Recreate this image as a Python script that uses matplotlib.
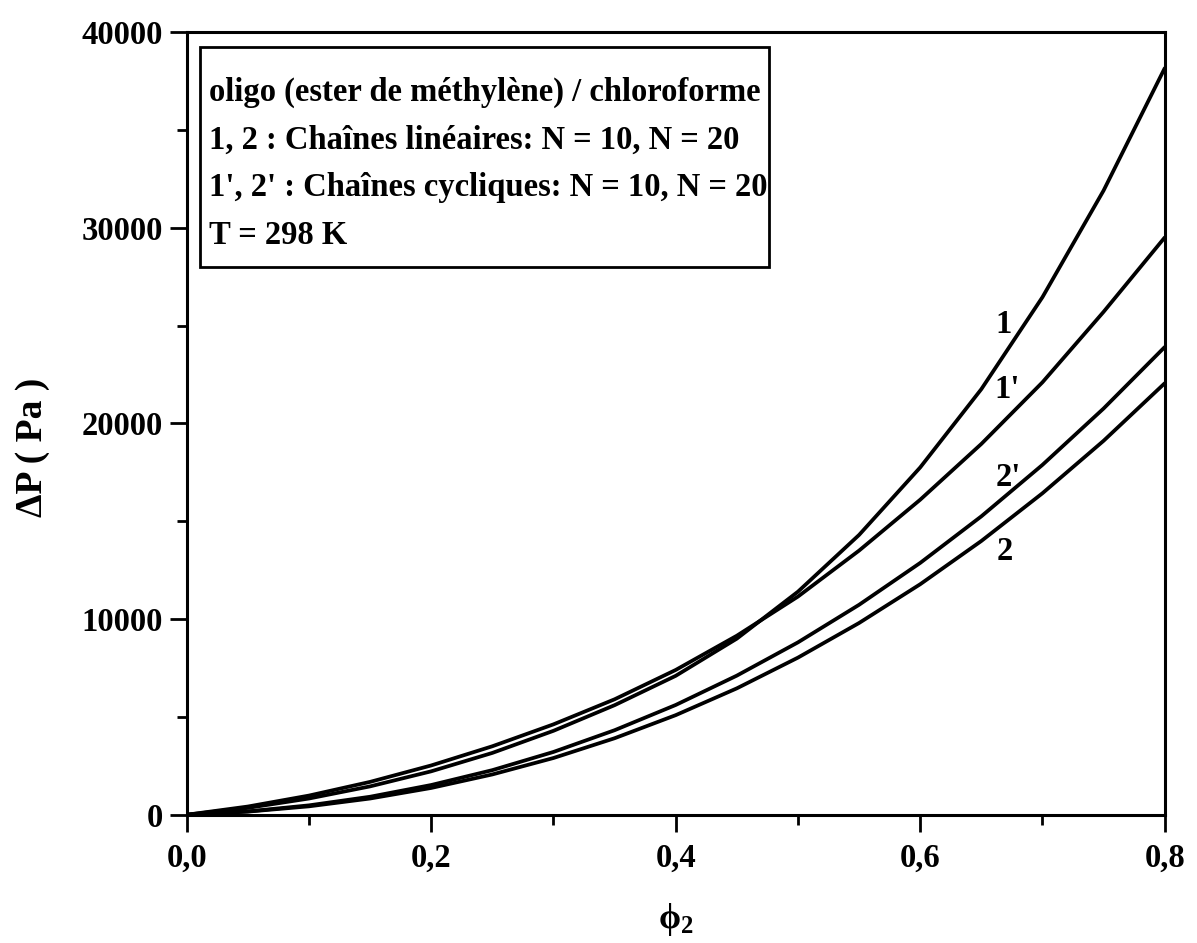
import matplotlib
matplotlib.use("Agg")
import matplotlib.pyplot as plt
from matplotlib.patches import Rectangle
from matplotlib.ticker import FuncFormatter, MultipleLocator

plt.rcParams['font.family'] = ['Liberation Serif', 'DejaVu Serif']
plt.rcParams['font.weight'] = 'bold'
plt.rcParams['mathtext.default'] = 'regular'

# fraction volumique phi_2
phi = [0.0, 0.05, 0.1, 0.15, 0.2, 0.25, 0.3, 0.35, 0.4,
       0.45, 0.5, 0.55, 0.6, 0.65, 0.7, 0.75, 0.8]

# pression osmotique (Pa)
lin_10 = [0, 350, 830, 1450, 2220, 3160, 4290, 5600, 7100,
          9000, 11400, 14300, 17750, 21750, 26450, 31900, 38150]
cyc_10 = [0, 420, 980, 1680, 2520, 3500, 4620, 5900, 7400,
          9150, 11150, 13500, 16100, 18950, 22100, 25700, 29500]
cyc_20 = [0, 170, 480, 920, 1520, 2280, 3210, 4320, 5610,
          7110, 8810, 10730, 12870, 15250, 17880, 20760, 23900]
lin_20 = [0, 160, 430, 830, 1370, 2060, 2900, 3910, 5090,
          6460, 8030, 9800, 11780, 13990, 16430, 19110, 22050]

curve_names = ["1", "1'", "2'", "2"]
label_pos = [(0.668, 25030), (0.671, 21710), (0.672, 17220), (0.669, 13430)]

legend_lines = ["oligo (ester de méthylène) / chloroforme",
                "1, 2 : Chaînes linéaires: N = 10, N = 20",
                "1', 2' : Chaînes cycliques: N = 10, N = 20",
                "T = 298 K"]

FS = 23.5

fig = plt.figure(figsize=(11.97, 9.43), dpi=100)
ax = fig.add_axes([0.156, 0.136, 0.817, 0.830])

for serie in (lin_10, cyc_10, cyc_20, lin_20):
    ax.plot(phi, serie, color='black', lw=2.7, solid_capstyle='round',
            solid_joinstyle='round')

for name, (x, y) in zip(curve_names, label_pos):
    ax.text(x, y, name, fontsize=FS, fontweight='bold', ha='center', va='center')

ax.set_xlim(0, 0.8)
ax.set_ylim(0, 40000)
ax.xaxis.set_major_locator(MultipleLocator(0.2))
ax.xaxis.set_minor_locator(MultipleLocator(0.1))
ax.yaxis.set_major_locator(MultipleLocator(10000))
ax.yaxis.set_minor_locator(MultipleLocator(5000))
ax.xaxis.set_major_formatter(FuncFormatter(lambda v, p: f"{v:.1f}".replace('.', ',')))
ax.yaxis.set_major_formatter(FuncFormatter(lambda v, p: f"{v:.0f}"))

ax.tick_params(which='major', direction='out', length=12, width=2, labelsize=FS)
ax.tick_params(axis='x', which='major', pad=8)
ax.tick_params(axis='y', which='major', pad=5)
ax.tick_params(which='minor', direction='out', length=7, width=2)
for lab in ax.get_xticklabels() + ax.get_yticklabels():
    lab.set_fontweight('bold')
for sp in ax.spines.values():
    sp.set_linewidth(2.2)

ax.set_xlabel(r'$\phi_2$', fontsize=FS + 2, fontweight='bold')
ax.xaxis.set_label_coords(0.5, -0.110)
ax.set_ylabel('ΔP ( Pa )', fontsize=27, fontweight='bold')
ax.yaxis.set_label_coords(-0.140, 0.469)

# cadre de légende
y0 = 0.923
texts = []
for i, line in enumerate(legend_lines):
    t = ax.text(0.0225, y0 - i * 0.0610, line, transform=ax.transAxes,
                fontsize=FS, fontweight='bold', ha='left', va='center')
    texts.append(t)

fig.canvas.draw()
renderer = fig.canvas.get_renderer()
inv = ax.transAxes.inverted()
right = max(inv.transform(t.get_window_extent(renderer))[1][0] for t in texts)
box = Rectangle((0.0133, 0.700), right + 0.002 - 0.0133, 0.281,
                transform=ax.transAxes, fill=False, lw=2, color='black')
ax.add_patch(box)

fig.savefig("out.png", dpi=100)
